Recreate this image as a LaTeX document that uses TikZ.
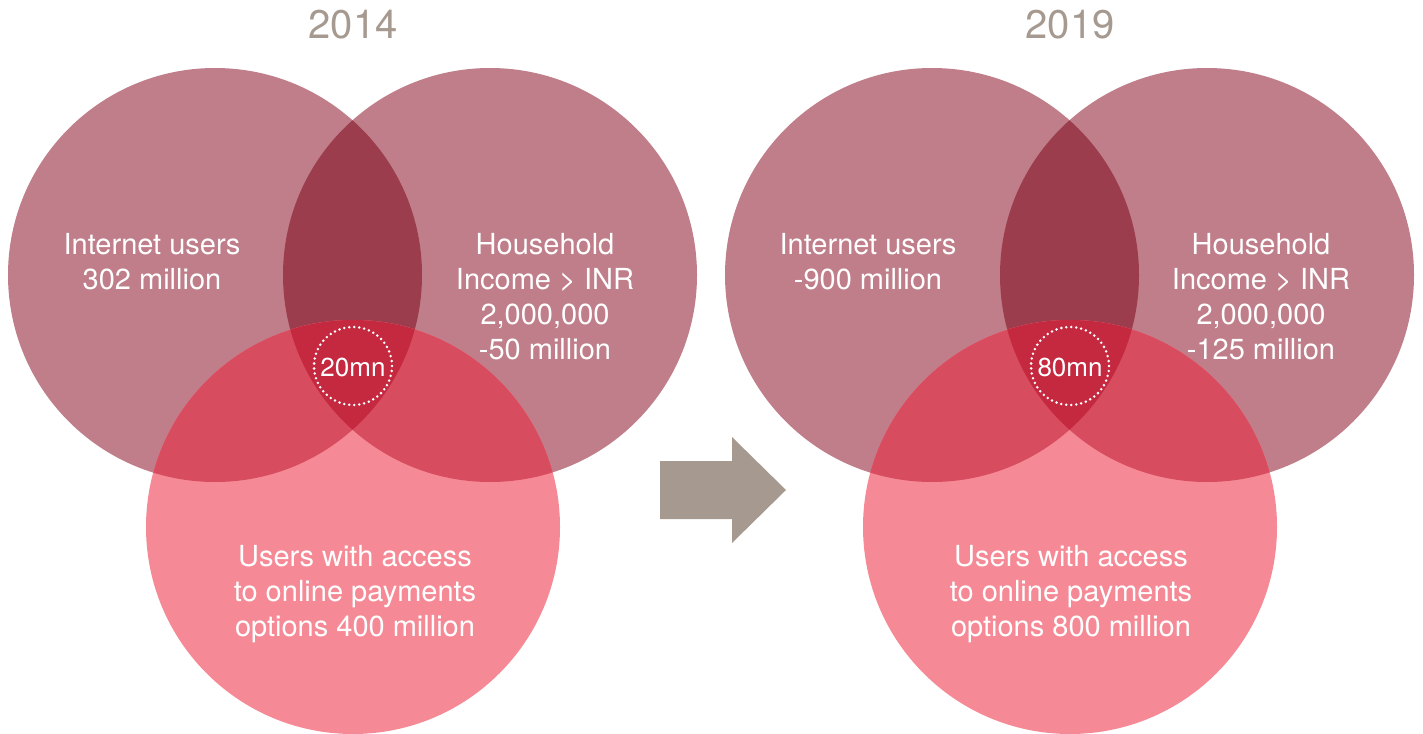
\documentclass[tikz,border=0pt]{standalone}
\usepackage{fontspec}
\setmainfont{TeX Gyre Heros}
\definecolor{topc}{HTML}{BF7E89}
\definecolor{toptop}{HTML}{9C3D4E}
\definecolor{botc}{HTML}{F58A96}
\definecolor{botmix}{HTML}{D84C5F}
\definecolor{triple}{HTML}{C42940}
\definecolor{greyc}{HTML}{A69A90}
\tikzset{
  lbl/.style={text=white, align=center, font=\fontsize{29}{35}\selectfont, inner sep=0pt},
  yearlbl/.style={text=greyc, font=\fontsize{40}{44}\selectfont, inner sep=0pt},
  midlbl/.style={text=white, font=\fontsize{26}{28}\selectfont, inner sep=0pt},
  dotring/.style={draw=white, line width=2.8pt, dash pattern=on 0pt off 5pt, line cap=round},
}
\newcommand{\myvenn}[8]{%
  \begin{scope}[xshift=#1]
    \fill[topc] (215,275) circle (207);
    \fill[topc] (490,275) circle (207);
    \begin{scope}\clip (215,275) circle (207); \fill[toptop] (490,275) circle (207);\end{scope}
    \fill[botc] (353,527) circle (207);
    \begin{scope}\clip (353,527) circle (207); \fill[botmix] (215,275) circle (207); \fill[botmix] (490,275) circle (207);
      \begin{scope}\clip (215,275) circle (207); \fill[triple] (490,275) circle (207);\end{scope}
    \end{scope}
    \draw[dotring] (353,366) circle (39);
    \node[midlbl] (#2mid) at (353,367) {#3};
    \node[yearlbl] (#2year) at (353,25) {#4};
    \node[lbl] (#2a) at (#5,261.5) {#6};
    \node[lbl] (#2b) at (#7,296.5) {#8};
  \end{scope}}
\begin{document}
\begin{tikzpicture}[x=1pt,y=-1pt]
\useasboundingbox (0,0) rectangle (1423,733);
\myvenn{0pt}{L}{20mn}{2014}{152}{Internet users\\302 million}{545}{Household\\Income > INR\\2,000,000\\-50 million}
\node[lbl] (Lc) at (355,594) {Users with access\\to online payments\\options 400 million};
\myvenn{717pt}{R}{80mn}{2019}{151}{Internet users\\-900 million}{544}{Household\\Income > INR\\2,000,000\\-125 million}
\node[lbl] (Rc) at (1071,594) {Users with access\\to online payments\\options 800 million};
\fill[greyc] (660,461) -- (732,461) -- (732,437) -- (786,490) -- (732,543) -- (732,519) -- (660,519) -- cycle;
\end{tikzpicture}
\end{document}
